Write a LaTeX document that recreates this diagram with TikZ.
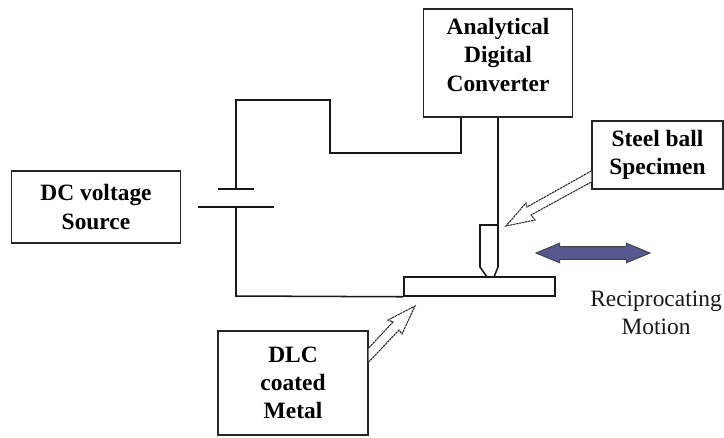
\documentclass[tikz,border=0pt]{standalone}
\usepackage{fontspec}
\setmainfont{Liberation Serif}
\usetikzlibrary{arrows.meta,positioning,shapes.arrows,calc}
\definecolor{motionfill}{RGB}{88,88,145}
\tikzset{
  lblbox/.style={rectangle, draw=black!85, line width=1.2pt, align=center,
                 font=\bfseries\fontsize{20}{24}\selectfont, fill=white, inner sep=0pt},
  wire/.style={draw=black!90, line width=1.3pt},
  hollow/.style={draw=black!85, dash pattern=on 2pt off 0.6pt, line width=0.9pt, fill=white},
  motion/.style={draw=black!75, line width=0.8pt, fill=motionfill}
}
\begin{document}
\begin{tikzpicture}[x=0.03cm,y=-0.03cm]
  \useasboundingbox (0,0) rectangle (724,437);
  % boxes
  \node[lblbox, minimum width=5.07cm, minimum height=2.16cm] (dc) at (96,207) {DC voltage\\Source};
  \node[lblbox, minimum width=4.47cm, minimum height=3.24cm, text depth=14pt] (adc) at (498,63) {Analytical\\Digital\\Converter};
  \node[lblbox, minimum width=3.93cm, minimum height=2.04cm] (ball) at (657.5,155) {Steel ball\\Specimen};
  \node[lblbox, minimum width=4.5cm, minimum height=3.12cm] (dlc) at (293,383) {DLC\\coated\\Metal};
  \node[wire, rectangle, minimum width=4.53cm, minimum height=0.57cm] (plate) at (479.5,286.5) {};
  % battery
  \coordinate (capa) at (236,189);
  \coordinate (capb) at (236,207);
  \draw[wire] ($(capa)+(-18,0)$) -- ($(capa)+(18,0)$);
  \draw[wire] ($(capb)+(-38,0)$) -- ($(capb)+(38,0)$);
  \draw[wire] (capa) -- (236,100) -- (330,100) -- (330,153) -- (461,153) -- ($(adc.south)+(-37,0)$);
  \draw[wire] (capb) -- (236,296) -- (plate.south west);
  % ball holder
  \draw[wire] (adc.south) -- (498,267) -- (494,277);
  \draw[wire] (498,225) -- (480,225) -- (480,267) -- (487,277);
  % hollow arrows
  \draw[hollow] ($(ball.west)+(0,16)$) -- (527,207) -- (526,203) -- (506,226) -- (535,220) -- (531,215) -- ($(ball.west)+(0,27)$);
  \draw[hollow] ($(dlc.east)+(0,-35)$) -- (393,322) -- (388,320) -- (415,306) -- (402,334) -- (399,330) -- ($(dlc.east)+(0,-21)$);
  % motion
  \node[motion, double arrow, text height=10pt, text depth=0pt, minimum height=3.42cm, inner sep=0pt,
        double arrow head extend=3pt, double arrow tip angle=45] (mot) at (593,253) {};
  \node[font=\fontsize{20}{24}\selectfont, align=center, text=black!90] (lbl) at (656,312.5) {Reciprocating\\Motion};
\end{tikzpicture}
\end{document}
